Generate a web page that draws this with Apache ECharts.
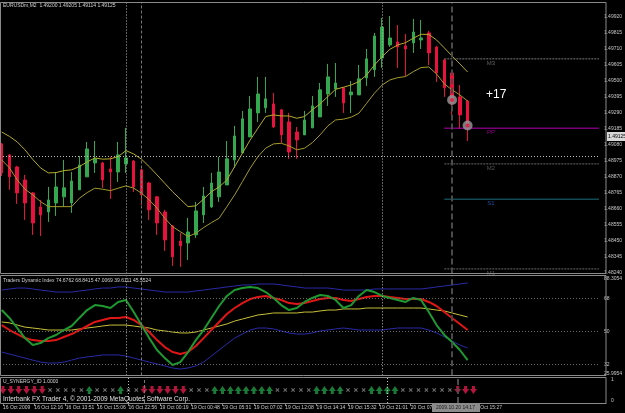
<!DOCTYPE html>
<html>
<head>
<meta charset="utf-8">
<title>EURUSDm,M2</title>
<script src="https://cdn.jsdelivr.net/npm/echarts@6/dist/echarts.min.js"></script>
<style>
  html, body { margin: 0; padding: 0; background: #000; }
  #chart { width: 625px; height: 413px; }
</style>
</head>
<body>
<div id="chart"></div>
<script>
// EURUSDm M2 bars, oldest first
const OPEN = [1.49084, 1.49012, 1.48933, 1.48848, 1.48763, 1.48671, 1.48638, 1.48697, 1.48737, 1.48697,
  1.48783, 1.48868, 1.48959, 1.48959, 1.48920, 1.48900, 1.48953, 1.48972, 1.48914, 1.48828,
  1.48737, 1.48638, 1.48547, 1.48448, 1.48435, 1.48488, 1.48619, 1.48671, 1.48737, 1.48815,
  1.48979, 1.49025, 1.49130, 1.49287, 1.49320, 1.49346, 1.49307, 1.49228, 1.49162, 1.49143,
  1.49189, 1.49261, 1.49411, 1.49444, 1.49451, 1.49405, 1.49405, 1.49516, 1.49569, 1.49647,
  1.49732, 1.49752, 1.49726, 1.49745, 1.49765, 1.49811, 1.49719, 1.49634, 1.49549, 1.49392, 1.49365]
const CLOSE = [1.48894, 1.48868, 1.48763, 1.48697, 1.48566, 1.48619, 1.48717, 1.48802, 1.48796, 1.48841,
  1.48946, 1.49051, 1.48986, 1.48848, 1.48900, 1.49012, 1.48992, 1.48802, 1.48750, 1.48652,
  1.48566, 1.48455, 1.48344, 1.48416, 1.48507, 1.48645, 1.48743, 1.48828, 1.48900, 1.48986,
  1.49136, 1.49248, 1.49313, 1.49411, 1.49379, 1.49195, 1.49143, 1.49031, 1.49110, 1.49241,
  1.49333, 1.49438, 1.49523, 1.49483, 1.49352, 1.49424, 1.49510, 1.49641, 1.49791, 1.49850,
  1.49778, 1.49719, 1.49706, 1.49817, 1.49778, 1.49680, 1.49549, 1.49451, 1.49352, 1.49274, 1.49202]
const LOW = [1.48874, 1.48783, 1.48691, 1.48586, 1.48488, 1.48481, 1.48573, 1.48612, 1.48671, 1.48632,
  1.48783, 1.48868, 1.48894, 1.48796, 1.48724, 1.48835, 1.48894, 1.48769, 1.48684, 1.48586,
  1.48488, 1.48383, 1.48285, 1.48278, 1.48324, 1.48468, 1.48566, 1.48665, 1.48704, 1.48815,
  1.48927, 1.49025, 1.49130, 1.49228, 1.49287, 1.49189, 1.49090, 1.48986, 1.48986, 1.49143,
  1.49189, 1.49261, 1.49333, 1.49392, 1.49287, 1.49287, 1.49405, 1.49464, 1.49523, 1.49582,
  1.49719, 1.49582, 1.49529, 1.49680, 1.49706, 1.49601, 1.49490, 1.49392, 1.49274, 1.49182, 1.49103]
const HIGH = [1.49090, 1.49018, 1.48940, 1.48881, 1.48769, 1.48717, 1.48802, 1.48900, 1.48979, 1.48900,
  1.49005, 1.49097, 1.49103, 1.48966, 1.48999, 1.49097, 1.49189, 1.48979, 1.48920, 1.48835,
  1.48743, 1.48652, 1.48553, 1.48501, 1.48599, 1.48704, 1.48802, 1.48894, 1.48999, 1.49103,
  1.49202, 1.49300, 1.49398, 1.49523, 1.49523, 1.49418, 1.49313, 1.49287, 1.49195, 1.49300,
  1.49398, 1.49483, 1.49608, 1.49614, 1.49457, 1.49496, 1.49601, 1.49706, 1.49811, 1.49909,
  1.49922, 1.49863, 1.49804, 1.49903, 1.49896, 1.49824, 1.49726, 1.49641, 1.49555, 1.49470, 1.49372]

// envelope bands (yellow)
const UPPER_BAND = [1.49162, 1.49133, 1.49097, 1.49045, 1.48982, 1.48927, 1.48894, 1.48896, 1.48909, 1.48914,
  1.48935, 1.48966, 1.48992, 1.48984, 1.48986, 1.49001, 1.49040, 1.49018, 1.48984, 1.48935,
  1.48881, 1.48826, 1.48771, 1.48722, 1.48673, 1.48678, 1.48722, 1.48771, 1.48802, 1.48848,
  1.48935, 1.49023, 1.49110, 1.49187, 1.49263, 1.49274, 1.49267, 1.49267, 1.49252, 1.49263,
  1.49307, 1.49346, 1.49394, 1.49442, 1.49455, 1.49470, 1.49492, 1.49536, 1.49601, 1.49656,
  1.49704, 1.49732, 1.49747, 1.49776, 1.49802, 1.49801, 1.49765, 1.49713, 1.49660, 1.49608, 1.49555]
const LOWER_BAND = [1.48979, 1.48927, 1.48848, 1.48787, 1.48750, 1.48706, 1.48673, 1.48673, 1.48673, 1.48673,
  1.48728, 1.48765, 1.48794, 1.48787, 1.48778, 1.48794, 1.48809, 1.48794, 1.48761, 1.48717,
  1.48663, 1.48597, 1.48542, 1.48509, 1.48477, 1.48499, 1.48536, 1.48568, 1.48597, 1.48673,
  1.48750, 1.48837, 1.48925, 1.49001, 1.49056, 1.49084, 1.49088, 1.49071, 1.49045, 1.49056,
  1.49092, 1.49143, 1.49202, 1.49241, 1.49246, 1.49259, 1.49285, 1.49350, 1.49416, 1.49470,
  1.49503, 1.49518, 1.49525, 1.49557, 1.49584, 1.49588, 1.49542, 1.49477, 1.49438, 1.49405, 1.49365]

const PRICE_TICKS = [1.49920, 1.49815, 1.49710, 1.49605, 1.49500, 1.49395, 1.49290, 1.49185, 1.49080,
  1.48975, 1.48870, 1.48765, 1.48660, 1.48555, 1.48450, 1.48345, 1.48240]

// daily pivots
const PIVOT_NAMES = ['M3', 'PP', 'M2', 'S1', 'M1']
const PIVOT_VALUES = [1.49641, 1.49187, 1.48953, 1.48722, 1.48265]
const PIVOT_FROM = 57

// open trades (circles)
const TRADE_BARS = [58, 60]
const TRADE_PRICES = [1.49372, 1.49204]

// Traders Dynamic Index
const TDI_UP = [72.5, 73.1, 73.6, 73.6, 73.1, 72.5, 72, 71.4, 71.4, 71.4,
  72, 72.5, 73.1, 73.6, 73.6, 74.2, 74.2, 73.6, 73.1, 72.5,
  72, 71.4, 71.4, 71.4, 71.4, 72, 72.5, 73.1, 73.6, 74.2,
  74.7, 75.3, 75.3, 75.8, 75.8, 75.8, 75.3, 74.7, 74.2, 73.6,
  73.6, 73.6, 73.6, 73.1, 72.5, 72.5, 72.5, 72.5, 73.1, 73.1,
  73.1, 73.1, 73.1, 73.1, 73.1, 73.6, 74.2, 74.7, 75.3, 75.8, 76.4]
const TDI_DN = [38.7, 37.6, 36.5, 35.4, 34.3, 33.2, 32.7, 32.7, 33.2, 34.3,
  35.4, 36, 36.5, 37.1, 37.1, 37.1, 36.5, 35.4, 34.3, 33.2,
  32.2, 31.1, 30, 29.4, 30, 31.1, 33.2, 36.5, 39.8, 43.1,
  46.3, 48.5, 50.7, 51.8, 51.8, 51.3, 50.2, 49.1, 48.5, 48.5,
  49.1, 50.2, 50.7, 51.3, 51.8, 51.3, 50.7, 50.7, 50.7, 50.7,
  51.3, 51.8, 51.8, 51.8, 51.8, 50.7, 49.1, 47, 44.7, 42.5, 40.9]
const TDI_MID = [55.1, 54.6, 53.4, 52.3, 51.8, 51.3, 50.7, 50.7, 50.7, 50.7,
  51.3, 51.8, 52.3, 52.9, 53.4, 53.4, 53.4, 52.9, 52.3, 51.8,
  50.7, 50.2, 49.6, 49.1, 49.1, 49.6, 50.7, 51.8, 52.9, 54,
  55.6, 56.7, 57.8, 58.9, 59.4, 60, 60, 60, 60, 60.5,
  60.5, 61.1, 61.6, 61.6, 62.2, 62.2, 62.2, 62.7, 62.7, 62.7,
  62.7, 62.7, 62.7, 62.7, 62.7, 62.2, 61.6, 61.1, 60, 58.9, 57.8]
const TDI_RSI = [61.6, 57.3, 51.8, 46.3, 42.5, 43.6, 46.3, 48, 50.7, 52.9,
  57.3, 61.6, 64.3, 63.8, 62.7, 66, 67.1, 60.5, 53.4, 46.3,
  39.8, 35.4, 31.6, 33.2, 38.7, 45.2, 50.7, 57.3, 63.8, 69.3,
  72.5, 73.6, 74.2, 73.6, 71.4, 68.2, 64.3, 61.6, 62.7, 66,
  68.2, 69.8, 69.3, 67.1, 62.7, 64.3, 69.3, 72.5, 71.4, 69.3,
  68.2, 67.1, 66, 68.2, 67.1, 60.5, 53.4, 48, 44.2, 39.8, 34.3]
const TDI_SIG = [53.4, 50.7, 48.5, 46.3, 45.2, 44.7, 44.7, 45.2, 46.9, 48.5,
  50.7, 52.9, 55.1, 56.2, 57.3, 57.3, 57.8, 56.2, 53.4, 49.6,
  45.2, 41.4, 38.7, 37.6, 38.7, 42, 46.3, 50.7, 55.1, 59.4,
  62.7, 65.4, 67.6, 68.7, 69.3, 68.2, 67.1, 65.4, 64.9, 65.4,
  66.5, 67.6, 68.2, 68.2, 67.1, 66.5, 67.6, 68.7, 69.3, 69.3,
  68.7, 68.2, 67.6, 67.6, 67.6, 66, 63.8, 60.5, 57.3, 54, 50.7]
const TDI_LEVELS = [68, 50, 32]
const TDI_TOP_LABEL = '88.3054'
const TDI_BOTTOM_LABEL = '25.9954'

// U_SYNERGY_ID per bar: D = sell arrow, U = buy arrow, X = none
const SIGNALS = 'DDDDDD' + 'XXXXX' + 'U' + 'XXX' + 'U' + 'XX' + 'DDDDDD' + 'XXX' + 'UUUUUUUU' +
  'XXXXX' + 'UUUU' + 'XXX' + 'UUUU' + 'XXXXXXX' + 'DDD'

// time labels, one every 4 bars
const TIME_LABELS = ['16 Oct 2009', '16 Oct 12:16', '16 Oct 13:51', '16 Oct 15:06', '16 Oct 22:56',
  '19 Oct 00:19', '19 Oct 00:48', '19 Oct 05:31', '19 Oct 07:02', '19 Oct 12:08', '19 Oct 14:14',
  '19 Oct 15:32', '19 Oct 21:01', '20 Oct 07:52', '20 Oct 11:05', '20 Oct 15:27']

const X_MIN = -0.22
const X_MAX = 76.91
const LABEL_BARS = TIME_LABELS.map((t, i) => i * 4)
const FONT = 'Liberation Sans'

const chart = echarts.init(document.getElementById('chart'))

const bars = OPEN.map((o, i) => [i, o, CLOSE[i], LOW[i], HIGH[i]])
const pairs = arr => arr.map((v, i) => [i, v])

// separators / crosshair, drawn in each panel
function vLines() {
  return {
    silent: true,
    symbol: 'none',
    label: { show: false },
    data: [
      { xAxis: 16, lineStyle: { color: '#bdbdbd', type: [1, 2], width: 1 } },
      { xAxis: 49, lineStyle: { color: '#bdbdbd', type: [1, 2], width: 1 } },
      { xAxis: 18, lineStyle: { color: '#777', type: [3, 2], width: 1 } },
      { xAxis: 58, lineStyle: { color: '#4a4a4a', type: [6, 3], width: 2 } }
    ]
  }
}

function xAxisFor(gridIndex, withLabels) {
  return {
    type: 'value',
    gridIndex: gridIndex,
    min: X_MIN,
    max: X_MAX,
    splitLine: { show: false },
    axisLine: { show: withLabels, onZero: false, lineStyle: { color: '#8a8a8a' } },
    axisTick: withLabels
      ? { show: true, customValues: LABEL_BARS, length: 3, lineStyle: { color: '#8a8a8a' } }
      : { show: false },
    axisLabel: withLabels
      ? {
          customValues: LABEL_BARS,
          formatter: v => TIME_LABELS[Math.round(v / 4)],
          align: 'left',
          margin: 2,
          color: '#c8c8c8',
          fontSize: 5,
          fontFamily: FONT
        }
      : { show: false }
  }
}

const arrowDown = 'path://M2,0 L5,0 L5,3 L7,3 L3.5,8 L0,3 L2,3 Z'
const arrowUp = 'path://M3.5,0 L7,5 L5,5 L5,8 L2,8 L2,5 L0,5 Z'
const cross = 'path://M0,1 L1,0 L3,2 L5,0 L6,1 L4,3 L6,5 L5,6 L3,4 L1,6 L0,5 L2,3 Z'

function signalPoints(code) {
  const out = []
  for (let i = 0; i < SIGNALS.length; i++) {
    if (SIGNALS[i] === code) out.push([i, 0.5])
  }
  return out
}

const pivotColors = ['#7a7a7a', '#b400b4', '#6a6a6a', '#1d6f7d', '#6a6a6a']
const pivotLabelColors = ['#7a7a7a', '#b400b4', '#6a6a6a', '#2a62c8', '#6a6a6a']

const pivotSeries = PIVOT_VALUES.map((v, k) => ({
  type: 'line',
  xAxisIndex: 0,
  yAxisIndex: 0,
  data: [[PIVOT_FROM, v], [X_MAX, v]],
  showSymbol: false,
  silent: true,
  lineStyle: { color: pivotColors[k], width: 1, type: k === 1 || k === 3 ? 'solid' : [2, 1] },
  z: 3
}))

const pivotLabels = {
  type: 'scatter',
  xAxisIndex: 0,
  yAxisIndex: 0,
  symbolSize: 0,
  silent: true,
  data: PIVOT_VALUES.map((v, k) => ({
    value: [63, v],
    label: {
      show: true,
      formatter: PIVOT_NAMES[k],
      position: 'bottom',
      distance: 1,
      color: pivotLabelColors[k],
      fontSize: 6,
      fontFamily: FONT
    }
  }))
}

const option = {
  backgroundColor: '#000',
  animation: false,
  grid: [
    { left: 0, right: 19, top: 3, height: 270.5 },
    { left: 0, right: 19, top: 276, height: 99.3 },
    { left: 0, right: 19, top: 377, height: 26 }
  ],
  xAxis: [xAxisFor(0, false), xAxisFor(1, false), xAxisFor(2, true)],
  yAxis: [
    {
      gridIndex: 0,
      type: 'value',
      position: 'right',
      min: 1.48235,
      max: 1.50007,
      splitLine: { show: false },
      axisLine: { show: false },
      axisTick: { show: false },
      axisLabel: {
        customValues: PRICE_TICKS,
        formatter: v => v.toFixed(5),
        margin: 5,
        color: '#c8c8c8',
        fontSize: 5,
        fontFamily: FONT
      }
    },
    {
      gridIndex: 1,
      type: 'value',
      position: 'right',
      min: 26,
      max: 80.17,
      splitLine: { show: false },
      axisLine: { show: false },
      axisTick: { show: false },
      axisLabel: {
        customValues: [79, 68, 50, 32, 27],
        formatter: v => (v === 79 ? TDI_TOP_LABEL : v === 27 ? TDI_BOTTOM_LABEL : String(v)),
        margin: 5,
        color: '#c8c8c8',
        fontSize: 5,
        fontFamily: FONT
      }
    },
    {
      gridIndex: 2,
      type: 'value',
      position: 'right',
      min: 0,
      max: 1,
      splitLine: { show: false },
      axisLine: { show: false },
      axisTick: { show: false },
      axisLabel: {
        customValues: [0.1, 0.9],
        formatter: v => (v > 0.5 ? '1' : '0'),
        margin: 5,
        color: '#c8c8c8',
        fontSize: 5,
        fontFamily: FONT
      }
    }
  ],
  series: [
    {
      name: 'EURUSDm,M2',
      type: 'candlestick',
      xAxisIndex: 0,
      yAxisIndex: 0,
      data: bars,
      encode: { x: 0, y: [1, 2, 3, 4] },
      barWidth: 3,
      itemStyle: {
        color: '#35a84f',
        color0: '#e8123c',
        borderColor: '#35a84f',
        borderColor0: '#e8123c',
        borderWidth: 1
      },
      markLine: Object.assign(vLines(), {
        data: vLines().data.concat([
          { yAxis: 1.49122, lineStyle: { color: '#bdbdbd', type: [1, 2], width: 1 } }
        ])
      })
    },
    {
      type: 'line',
      xAxisIndex: 0,
      yAxisIndex: 0,
      data: pairs(UPPER_BAND),
      showSymbol: false,
      lineStyle: { color: '#b5ad2c', width: 1 }
    },
    {
      type: 'line',
      xAxisIndex: 0,
      yAxisIndex: 0,
      data: pairs(LOWER_BAND),
      showSymbol: false,
      lineStyle: { color: '#a39c28', width: 1 }
    },
    ...pivotSeries,
    pivotLabels,
    {
      type: 'scatter',
      xAxisIndex: 0,
      yAxisIndex: 0,
      data: TRADE_BARS.map((b, k) => [b, TRADE_PRICES[k]]),
      symbolSize: 10,
      itemStyle: { color: '#9a9a9a' },
      z: 5
    },
    {
      type: 'scatter',
      xAxisIndex: 0,
      yAxisIndex: 0,
      data: TRADE_BARS.map((b, k) => [b, TRADE_PRICES[k]]),
      symbolSize: 4,
      itemStyle: { color: '#e8123c' },
      z: 6
    },
    // Traders Dynamic Index
    {
      type: 'line',
      xAxisIndex: 1,
      yAxisIndex: 1,
      data: pairs(TDI_UP),
      showSymbol: false,
      lineStyle: { color: '#2a2aa8', width: 1 },
      markLine: {
        silent: true,
        symbol: 'none',
        label: { show: false },
        lineStyle: { color: '#6a6a6a', type: [1, 2], width: 1 },
        data: TDI_LEVELS.map(v => ({ yAxis: v }))
      }
    },
    {
      type: 'line',
      xAxisIndex: 1,
      yAxisIndex: 1,
      data: pairs(TDI_DN),
      showSymbol: false,
      lineStyle: { color: '#2a2aa8', width: 1 },
      markLine: vLines()
    },
    {
      type: 'line',
      xAxisIndex: 1,
      yAxisIndex: 1,
      data: pairs(TDI_MID),
      showSymbol: false,
      lineStyle: { color: '#c8c038', width: 1 }
    },
    {
      type: 'line',
      xAxisIndex: 1,
      yAxisIndex: 1,
      data: pairs(TDI_SIG),
      showSymbol: false,
      lineStyle: { color: '#e01515', width: 2 }
    },
    {
      type: 'line',
      xAxisIndex: 1,
      yAxisIndex: 1,
      data: pairs(TDI_RSI),
      showSymbol: false,
      lineStyle: { color: '#1e9a30', width: 2 }
    },
    // U_SYNERGY_ID
    {
      type: 'scatter',
      xAxisIndex: 2,
      yAxisIndex: 2,
      data: signalPoints('D'),
      symbol: arrowDown,
      symbolSize: [7, 8],
      itemStyle: { color: '#e0194a' },
      markLine: vLines()
    },
    {
      type: 'scatter',
      xAxisIndex: 2,
      yAxisIndex: 2,
      data: signalPoints('U'),
      symbol: arrowUp,
      symbolSize: [7, 8],
      itemStyle: { color: '#1f9a45' }
    },
    {
      type: 'scatter',
      xAxisIndex: 2,
      yAxisIndex: 2,
      data: signalPoints('X'),
      symbol: cross,
      symbolSize: [4, 4],
      itemStyle: { color: '#8c8c8c' }
    }
  ],
  graphic: [
    // panel frames
    { type: 'rect', shape: { x: 0.5, y: 2.5, width: 605.5, height: 271 }, style: { fill: null, stroke: '#8a8a8a', lineWidth: 1 }, silent: true, z: 50 },
    { type: 'rect', shape: { x: 0.5, y: 275.5, width: 605.5, height: 100 }, style: { fill: null, stroke: '#8a8a8a', lineWidth: 1 }, silent: true, z: 50 },
    { type: 'rect', shape: { x: 0.5, y: 377.5, width: 605.5, height: 26 }, style: { fill: null, stroke: '#8a8a8a', lineWidth: 1 }, silent: true, z: 50 },
    // headers
    { type: 'text', left: 3, top: 3, style: { text: 'EURUSDm,M2  1.49200 1.49205 1.49114 1.49125', fill: '#d0d0d0', fontSize: 5, fontFamily: FONT }, z: 60 },
    { type: 'text', left: 3, top: 278, style: { text: 'Traders Dynamic Index 74.6762 68.8415 47.0069 39.6111 45.5524', fill: '#d0d0d0', fontSize: 5, fontFamily: FONT }, z: 60 },
    { type: 'text', left: 3, top: 379, style: { text: 'U_SYNERGY_ID 1.0000', fill: '#d0d0d0', fontSize: 5, fontFamily: FONT }, z: 60 },
    { type: 'text', left: 3, top: 396, style: { text: 'Interbank FX Trader 4, © 2001-2009 MetaQuotes Software Corp.', fill: '#e0e0e0', fontSize: 6.5, fontFamily: FONT }, z: 60 },
    // profit tag
    { type: 'text', left: 486, top: 89, style: { text: '+17', fill: '#ffffff', fontSize: 12, fontFamily: FONT }, z: 60 },
    // crosshair tags
    { type: 'rect', shape: { x: 607, y: 132, width: 18, height: 9 }, style: { fill: '#d8d8d8' }, silent: true, z: 60 },
    { type: 'text', left: 608, top: 134, style: { text: '1.49125', fill: '#000', fontSize: 5, fontFamily: FONT }, z: 61 },
    { type: 'rect', shape: { x: 432, y: 404, width: 48, height: 8 }, style: { fill: '#8c8c8c' }, silent: true, z: 60 },
    { type: 'text', left: 436, top: 405.5, style: { text: '2009.10.20 14:17', fill: '#1a1a1a', fontSize: 5, fontFamily: FONT }, z: 61 }
  ]
}

chart.setOption(option)
</script>
</body>
</html>
